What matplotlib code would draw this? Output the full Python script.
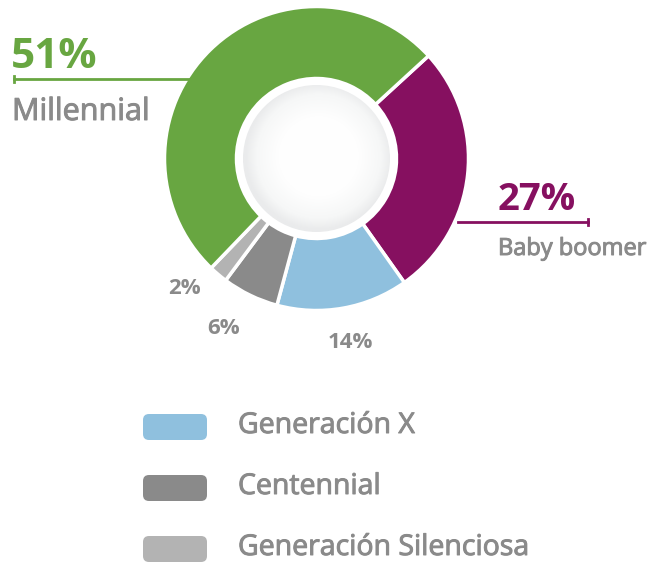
import numpy as np
import matplotlib
matplotlib.use("Agg")
import matplotlib.pyplot as plt
import matplotlib.patheffects as pe
from matplotlib.patches import Circle, FancyBboxPatch

# data (clockwise from the top-right)
labels = ["Baby boomer", "Generación X", "Centennial", "Generación Silenciosa", "Millennial"]
values = [27, 14, 6, 2, 51]
colors = ["#861060", "#8fc0de", "#8a8a8a", "#b3b3b3", "#68a641"]
legend_labels = ["Generación X", "Centennial", "Generación Silenciosa"]
legend_colors = ["#8fc0de", "#8a8a8a", "#b3b3b3"]

gray = "#8a8a8a"
W, H = 652, 563
plt.rcParams['font.family'] = ['Open Sans', 'DejaVu Sans']
heavy = [pe.withStroke(linewidth=0.7, foreground=gray)]

fig = plt.figure(figsize=(W / 100, H / 100), dpi=100)
ax = fig.add_axes([0, 0, 1, 1])
ax.set_xlim(0, W)
ax.set_ylim(0, H)
ax.set_aspect('equal')
ax.axis('off')


def Y(y):
    # pixel row (from top) -> axes y
    return H - y


cx, cy, R = 316.5, Y(158.5), 152
ax.pie(values, colors=colors, startangle=42.5, counterclock=False,
       center=(cx, cy), radius=R,
       wedgeprops=dict(width=72, edgecolor='white', linewidth=2.5))
ax.set_xlim(0, W)
ax.set_ylim(0, H)

# white ring + soft grey disc in the hole
ax.add_patch(Circle((cx, cy), 80.5, facecolor='white', edgecolor='none', zorder=3))
disc = Circle((cx, cy), 73.5, facecolor='none', edgecolor='none', zorder=4)
ax.add_patch(disc)
gx, gy = np.meshgrid(np.linspace(-1, 1, 200), np.linspace(-1, 1, 200))
rr = np.sqrt((gx - 0.03) ** 2 + (gy + 0.03) ** 2)
im = ax.imshow(rr, cmap=matplotlib.colors.LinearSegmentedColormap.from_list(
    'g', [(0, '#ffffff'), (0.55, '#fefefe'), (0.85, '#f6f7f7'), (1, '#eaebec')]),
    vmin=0, vmax=1.0, extent=(cx - 73.5, cx + 73.5, cy - 73.5, cy + 73.5), zorder=4)
im.set_clip_path(disc)

# Millennial callout
ax.text(11, Y(68), "51%", color=colors[4], fontsize=30.5, fontweight='bold', va='baseline')
ax.plot([14, 192], [Y(79), Y(79)], color=colors[4], lw=2, zorder=2)
ax.plot([14, 14], [Y(76), Y(82)], color=colors[4], lw=2)
ax.text(12, Y(120), "Millennial", color=gray, fontsize=22, va='baseline', path_effects=heavy)

# Baby boomer callout
ax.text(498, Y(210), "27%", color=colors[0], fontsize=27.5, fontweight='bold', va='baseline')
ax.plot([458, 588], [Y(221.5), Y(221.5)], color=colors[0], lw=2, zorder=2)
ax.plot([588, 588], [Y(218.5), Y(224.5)], color=colors[0], lw=2)
ax.text(498, Y(255), "Baby boomer", color=gray, fontsize=17, va='baseline', path_effects=heavy)

# small percentages
small = [("14%", 350, 343), ("6%", 224, 329), ("2%", 184, 289)]
for txt, x, y in small:
    ax.text(x, Y(y), txt, color=gray, fontsize=16, fontweight='bold', ha='center', va='center')

# legend
for i, (lab, col) in enumerate(zip(legend_labels, legend_colors)):
    yc = 427 + i * 61
    ax.add_patch(FancyBboxPatch((146, Y(yc) - 10), 58, 20,
                                boxstyle="round,pad=3,rounding_size=6",
                                facecolor=col, edgecolor='none'))
    ax.text(238, Y(yc) + 1, lab, color=gray, fontsize=20.5, va='center', path_effects=heavy)

fig.savefig("out.png", dpi=100)
